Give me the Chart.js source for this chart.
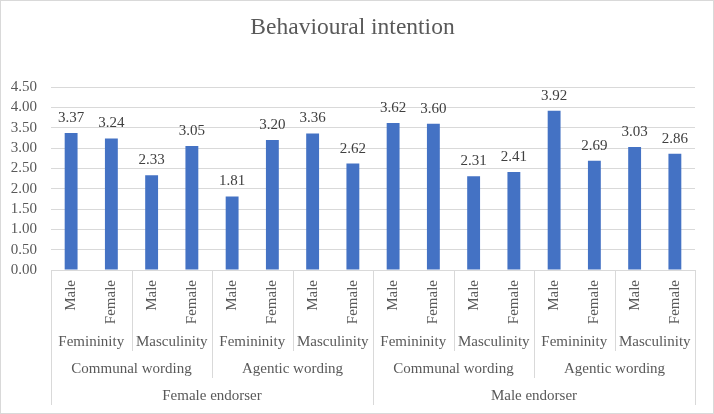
<!DOCTYPE html>
<html>
<head>
<meta charset="utf-8">
<script src="https://cdn.jsdelivr.net/npm/chart.js@4"></script>
<style>
  html, body { margin: 0; padding: 0; background: #fff; }
  #wrap { width: 714px; height: 414px; }
</style>
</head>
<body>
<div id="wrap"><canvas id="myChart" width="714" height="414"></canvas></div>
<script>
// values
const sexLabels = ['Male', 'Female', 'Male', 'Female', 'Male', 'Female', 'Male', 'Female',
                   'Male', 'Female', 'Male', 'Female', 'Male', 'Female', 'Male', 'Female'];
const traitLabels = ['Femininity', 'Masculinity', 'Femininity', 'Masculinity',
                     'Femininity', 'Masculinity', 'Femininity', 'Masculinity'];
const wordingLabels = ['Communal wording', 'Agentic wording', 'Communal wording', 'Agentic wording'];
const endorserLabels = ['Female endorser', 'Male endorser'];
const intention = [3.37, 3.24, 2.33, 3.05, 1.81, 3.20, 3.36, 2.62,
                   3.62, 3.60, 2.31, 2.41, 3.92, 2.69, 3.03, 2.86];

const FONT = "'Liberation Serif', 'Times New Roman', serif";
const TXT = '#595959';
const LINE = '#d9d9d9';
const SIZE = 15;

// white background + thin frame round the whole chart
const frame = {
  id: 'frame',
  beforeDraw(chart) {
    const c = chart.ctx;
    c.save();
    c.fillStyle = '#fff';
    c.fillRect(0, 0, chart.width, chart.height);
    c.strokeStyle = LINE;
    c.lineWidth = 1;
    c.strokeRect(0.5, 0.5, chart.width - 1, chart.height - 1);
    c.restore();
  }
};

// value on top of each bar
const valueLabels = {
  id: 'valueLabels',
  afterDatasetsDraw(chart) {
    const c = chart.ctx;
    c.save();
    c.font = SIZE + 'px ' + FONT;
    c.fillStyle = '#404040';
    c.textAlign = 'center';
    c.textBaseline = 'middle';
    chart.getDatasetMeta(0).data.forEach((bar, i) => {
      c.fillText(intention[i].toFixed(2), bar.x, bar.y - 15);
    });
    c.restore();
  }
};

// the grouped rows under the x axis
const groupAxis = {
  id: 'groupAxis',
  afterDraw(chart) {
    const c = chart.ctx;
    const x = chart.scales.x;
    const area = chart.chartArea;
    const n = sexLabels.length;
    const step = (area.right - area.left) / n;
    const edge = (i) => area.left + i * step;
    const rows = [
      { labels: traitLabels, y: 342, lineEnd: 351 },
      { labels: wordingLabels, y: 369, lineEnd: 378 },
      { labels: endorserLabels, y: 396, lineEnd: 405 }
    ];
    c.save();
    c.strokeStyle = LINE;
    c.lineWidth = 1;
    // separators: the longest line wins at each boundary
    for (let i = 0; i <= n; i++) {
      let end = null;
      rows.forEach(r => {
        const size = n / r.labels.length;
        if (i % size === 0) end = r.lineEnd;
      });
      if (end === null) continue;
      if (i === 0 || i === n) end = 405;
      const px = Math.round(edge(i)) + 0.5;
      c.beginPath();
      c.moveTo(px, area.bottom);
      c.lineTo(px, end);
      c.stroke();
    }
    c.font = SIZE + 'px ' + FONT;
    c.fillStyle = TXT;
    c.textAlign = 'center';
    c.textBaseline = 'middle';
    rows.forEach(r => {
      const size = n / r.labels.length;
      r.labels.forEach((lab, j) => {
        const a = x.getPixelForValue(j * size);
        const b = x.getPixelForValue(j * size + size - 1);
        c.fillText(lab, (a + b) / 2, r.y);
      });
    });
    c.restore();
  }
};

const ctx = document.getElementById('myChart');
const chart = new Chart(ctx, {
  type: 'bar',
  data: {
    labels: sexLabels,
    datasets: [{
      label: 'Behavioural intention',
      data: intention,
      backgroundColor: '#4472C4',
      barPercentage: 0.64,
      categoryPercentage: 0.5
    }]
  },
  options: {
    responsive: false,
    animation: false,
    layout: { padding: { left: 10, right: 19, bottom: 9 } },
    plugins: {
      legend: { display: false },
      tooltip: { enabled: false },
      title: {
        display: true,
        text: 'Behavioural intention',
        color: TXT,
        font: { family: FONT, size: 23.5, weight: 'normal' },
        padding: { top: 14, bottom: 45 }
      }
    },
    scales: {
      x: {
        grid: { display: false },
        border: { display: false },
        ticks: {
          color: TXT,
          font: { family: FONT, size: SIZE },
          minRotation: 90,
          maxRotation: 90,
          autoSkip: false,
          padding: 2
        },
        afterFit: (s) => { s.height = 135; }
      },
      y: {
        min: 0,
        max: 4.5,
        border: { display: false },
        grid: { color: LINE, drawTicks: false },
        ticks: {
          stepSize: 0.5,
          autoSkip: false,
          color: TXT,
          font: { family: FONT, size: SIZE },
          padding: 14,
          callback: (v) => v.toFixed(2)
        },
        afterFit: (s) => { s.width = 41; }
      }
    }
  },
  plugins: [frame, valueLabels, groupAxis]
});
</script>
</body>
</html>
